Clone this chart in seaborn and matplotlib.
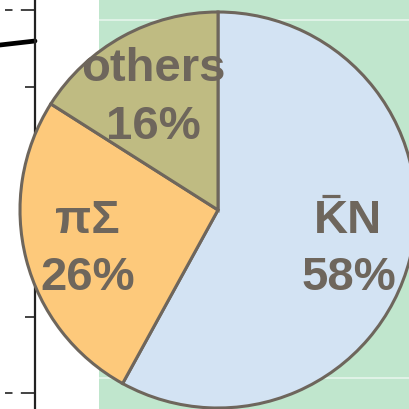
import matplotlib
matplotlib.use("Agg")
import matplotlib.pyplot as plt
import seaborn as sns
import numpy as np

# ---- data ----
categories = ["KN", "\u03c0\u03a3", "others"]
has_bar = [True, False, False]
shares = [58, 26, 16]
slice_colors = ["#d3e3f3", "#fdc97b", "#bfbb82"]
tick_rows = [10, 87, 163, 240, 317, 393]
trace_x = [0, 35]
trace_y = [45, 41]

sns.set_style("white")
plt.rcParams['font.family'] = ['Liberation Sans', 'DejaVu Sans']

W = 409
fig = plt.figure(figsize=(4.09, 4.09), dpi=100)
fig.patch.set_facecolor("white")

# background axes (pixel coordinates)
ax_bg = fig.add_axes([35 / W, 0, (W - 35) / W, 1])
ax_bg.set_xlim(35, W)
ax_bg.set_ylim(W, 0)
ax_bg.set_facecolor("white")
ax_bg.axvspan(99, W, color="#c0e6cd", lw=0)
for yy in [20, 378]:
    ax_bg.plot([99, W], [yy, yy], color="white", lw=1.2, alpha=0.6)
for s in ["top", "right", "bottom"]:
    ax_bg.spines[s].set_visible(False)
ax_bg.spines["left"].set_color("#222222")
ax_bg.spines["left"].set_linewidth(1.6)
ax_bg.set_xticks([])
ax_bg.set_yticks(tick_rows)
ax_bg.set_yticklabels([])
ax_bg.tick_params(axis="y", direction="out", length=7, width=1.2, color="#222222", left=True)
for yy in [tick_rows[0], tick_rows[-1]]:
    ax_bg.plot([5, 25], [yy, yy], color="#222222", lw=1.2, ls=(0, (4.5, 5)), clip_on=False)
sns.lineplot(x=trace_x, y=trace_y, ax=ax_bg, color="black", lw=3.4, clip_on=False, legend=False)

# pie axes
cx, cy, R = 218, 210, 198
ax = fig.add_axes([(cx - R) / W, (W - cy - R) / W, 2 * R / W, 2 * R / W])
wedges, _ = ax.pie(shares, colors=slice_colors, startangle=90, counterclock=False,
                   radius=1.0, wedgeprops=dict(edgecolor="#6e665c", linewidth=2.2))
ax.set_xlim(-1, 1)
ax.set_ylim(-1, 1)
ax.set_aspect("equal")
ax.axis("off")
for w in wedges:
    w.set_clip_on(False)

txt_color = "#6e665c"
px = 1.0 / R
start = 90.0
for name, val, bar in zip(categories, shares, has_bar):
    mid = np.deg2rad(start - val * 3.6 / 2)
    start -= val * 3.6
    r = 0.68
    x0, y0 = r * np.cos(mid), r * np.sin(mid) - 0.03
    dy = 0.145
    ax.text(x0, y0 + dy, name, ha="center", va="center",
            fontsize=34, fontweight="bold", color=txt_color)
    ax.text(x0, y0 - dy, f"{val}%", ha="center", va="center",
            fontsize=34, fontweight="bold", color=txt_color)
    if bar:
        bx = x0 - 17 * px
        by = y0 + dy + 25 * px
        ax.plot([bx - 9 * px, bx + 9 * px], [by, by], color=txt_color, lw=2.3,
                solid_capstyle="butt")

fig.savefig("out.png", dpi=100)
